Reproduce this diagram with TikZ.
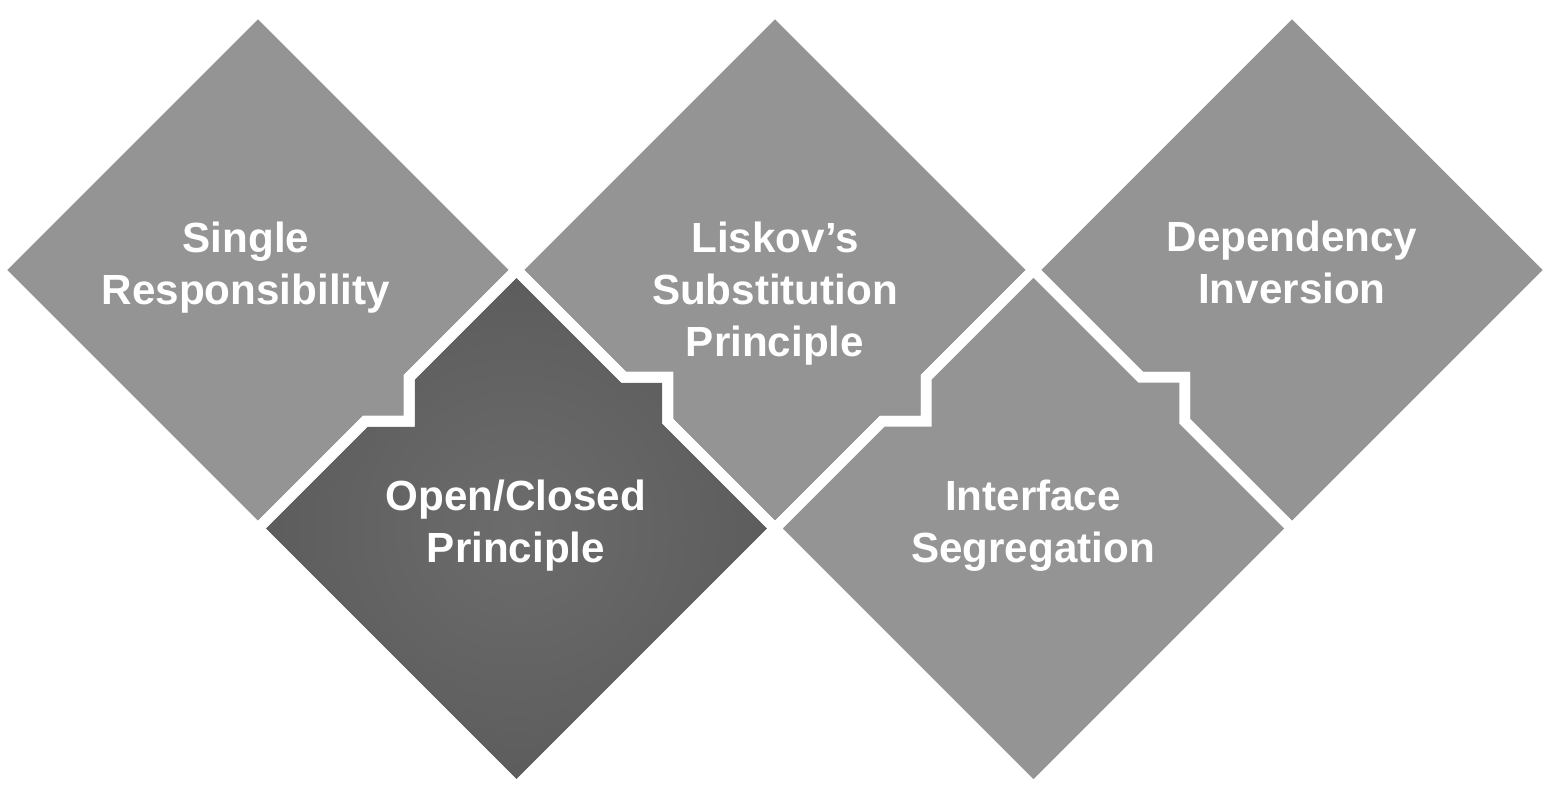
\documentclass[tikz,border=0pt]{standalone}
\usepackage{fontspec}
\setmainfont{Liberation Sans}
\definecolor{tilegray}{RGB}{148,148,148}
\definecolor{darkin}{RGB}{108,108,108}
\definecolor{darkout}{RGB}{92,92,92}

\begin{document}
\begin{tikzpicture}[tile/.style={draw=white, line width=3.1pt, line join=miter},
    title/.style={text=white, align=center,
    font=\fontsize{12}{14.8}\selectfont\bfseries}]
\useasboundingbox (0,0) rectangle (15.58,7.92);
%
% top row
\filldraw[tile, fill=tilegray] (2.58,7.805) -- (5.165,5.22) -- (4.0925,4.1475)
  -- (4.0925,3.7075) -- (3.6525,3.7075) -- (2.58,2.635) -- (-0.005,5.22) -- cycle;
\filldraw[tile, fill=tilegray] (7.75,7.805) -- (10.335,5.22) -- (9.2625,4.1475)
  -- (9.2625,3.7075) -- (8.8225,3.7075) -- (7.75,2.635) -- (6.6775,3.7075)
  -- (6.6775,4.1475) -- (6.2375,4.1475) -- (5.165,5.22) -- cycle;
\filldraw[tile, fill=tilegray] (12.92,7.805) -- (15.505,5.22) -- (12.92,2.635)
  -- (11.8475,3.7075) -- (11.8475,4.1475) -- (11.4075,4.1475) -- (10.335,5.22) -- cycle;
%
% bottom row
\shade[tile, inner color=darkin, outer color=darkout] (2.58,2.635) -- (3.6525,3.7075)
  -- (4.0925,3.7075) -- (4.0925,4.1475) -- (5.165,5.22) -- (6.2375,4.1475)
  -- (6.6775,4.1475) -- (6.6775,3.7075) -- (7.75,2.635) -- (5.165,0.05) -- cycle;
\draw[tile] (2.58,2.635) -- (3.6525,3.7075)
  -- (4.0925,3.7075) -- (4.0925,4.1475) -- (5.165,5.22) -- (6.2375,4.1475)
  -- (6.6775,4.1475) -- (6.6775,3.7075) -- (7.75,2.635) -- (5.165,0.05) -- cycle;
\filldraw[tile, fill=tilegray] (7.75,2.635) -- (8.8225,3.7075) -- (9.2625,3.7075)
  -- (9.2625,4.1475) -- (10.335,5.22) -- (11.4075,4.1475) -- (11.8475,4.1475)
  -- (11.8475,3.7075) -- (12.92,2.635) -- (10.335,0.05) -- cycle;
%
\node[title] (srp) at (2.46,5.24) {Single\\Responsibility};
\node[title] (lsp) at (7.75,4.98) {Liskov’s\\Substitution\\Principle};
\node[title] (dip) at (12.92,5.30) {Dependency\\Inversion};
\node[title] (ocp) at (5.16,2.66) {Open/Closed\\Principle};
\node[title] (isp) at (10.33,2.66) {Interface\\Segregation};
\end{tikzpicture}
\end{document}
